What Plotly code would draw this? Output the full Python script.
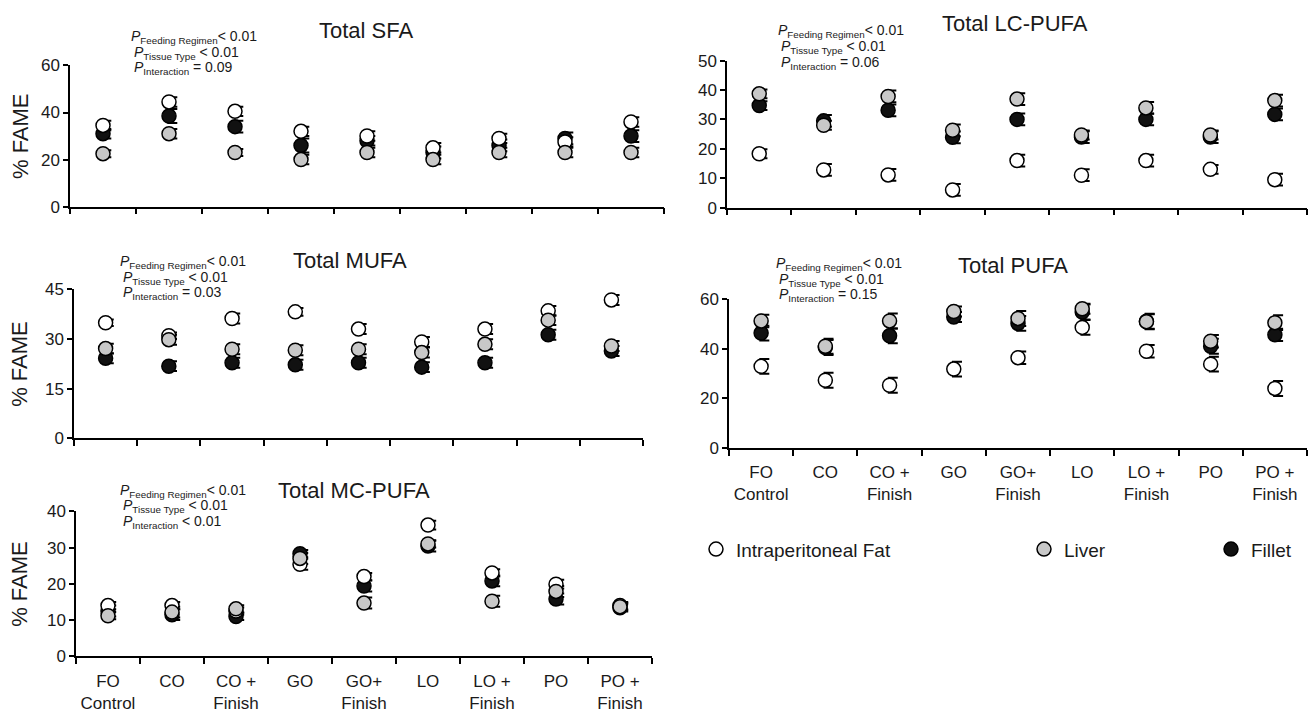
import plotly.graph_objects as go

W, H = 1309, 716
FONT = "Liberation Sans, Arial, sans-serif"

categories = ["FO<br>Control", "CO", "CO +<br>Finish", "GO", "GO+<br>Finish",
              "LO", "LO +<br>Finish", "PO", "PO +<br>Finish"]
series_names = ["Intraperitoneal Fat", "Liver", "Fillet"]

# ---- Total SFA ----
sfa_fat = [34.5, 44.5, 40.5, 32.0, 30.0, 25.0, 29.0, 27.5, 36.0]
sfa_liver = [22.5, 31.0, 23.0, 20.0, 23.0, 20.0, 23.0, 23.0, 23.0]
sfa_fillet = [31.0, 38.5, 34.0, 26.0, 28.0, 23.0, 26.0, 29.0, 30.0]
sfa_fat_err = [2.0, 2.0, 2.0, 2.0, 2.0, 2.0, 2.0, 2.0, 2.0]
sfa_liver_err = [1.5, 2.0, 1.5, 2.0, 2.0, 2.0, 2.0, 2.0, 2.0]
sfa_fillet_err = [2.0, 3.0, 2.5, 3.0, 2.0, 2.5, 2.5, 2.5, 2.5]

# ---- Total LC-PUFA ----
lc_fat = [18.3, 12.8, 11.1, 6.0, 16.0, 11.0, 16.0, 13.0, 9.5]
lc_liver = [38.7, 28.0, 37.8, 26.3, 36.9, 24.7, 33.9, 24.7, 36.4]
lc_fillet = [34.7, 29.5, 33.1, 23.9, 30.0, 24.0, 30.0, 24.0, 31.7]
lc_fat_err = [1.5, 2.0, 2.0, 2.0, 2.0, 2.0, 2.0, 1.5, 2.0]
lc_liver_err = [1.5, 1.5, 2.0, 2.0, 2.0, 1.5, 2.0, 1.5, 2.0]
lc_fillet_err = [1.5, 2.0, 2.0, 2.0, 2.0, 2.0, 2.0, 2.0, 2.0]

# ---- Total MUFA ----
mufa_fat = [34.9, 31.0, 36.2, 38.2, 33.0, 29.1, 33.0, 38.5, 41.8]
mufa_liver = [27.1, 29.8, 26.9, 26.6, 26.9, 25.9, 28.4, 35.7, 27.9]
mufa_fillet = [24.2, 21.8, 22.8, 22.2, 22.8, 21.5, 22.8, 31.3, 26.4]
mufa_fat_err = [1.0, 1.0, 1.5, 1.2, 1.5, 1.5, 1.5, 1.5, 1.5]
mufa_liver_err = [1.5, 1.5, 1.5, 1.5, 1.5, 1.5, 1.5, 1.5, 1.5]
mufa_fillet_err = [1.5, 1.5, 1.5, 1.5, 1.5, 1.5, 1.5, 1.5, 1.5]

# ---- Total PUFA ----
pufa_fat = [32.9, 27.3, 25.3, 31.8, 36.4, 48.6, 39.0, 33.8, 24.0]
pufa_liver = [51.2, 41.0, 51.2, 55.0, 52.2, 56.1, 50.9, 43.0, 50.5]
pufa_fillet = [46.3, 40.5, 45.2, 52.8, 50.2, 54.8, 51.1, 41.0, 45.6]
pufa_fat_err = [3.0, 3.0, 3.0, 3.0, 2.5, 3.0, 2.5, 3.0, 3.0]
pufa_liver_err = [2.5, 3.0, 3.0, 2.0, 3.0, 2.0, 3.0, 2.5, 3.0]
pufa_fillet_err = [3.0, 3.0, 3.0, 2.0, 3.0, 3.0, 3.0, 3.0, 2.5]

# ---- Total MC-PUFA ----
mc_fat = [14.0, 14.0, 12.5, 25.4, 22.0, 36.2, 23.0, 19.9, 14.0]
mc_liver = [11.2, 12.2, 13.1, 27.0, 14.7, 31.0, 15.2, 17.9, 13.7]
mc_fillet = [12.5, 11.5, 11.0, 28.3, 19.4, 30.4, 20.8, 15.8, 13.4]
mc_fat_err = [1.0, 1.0, 1.0, 1.5, 1.0, 1.2, 1.0, 1.2, 1.0]
mc_liver_err = [1.0, 1.5, 1.0, 1.5, 1.5, 1.0, 1.5, 1.5, 1.0]
mc_fillet_err = [1.5, 1.5, 1.0, 1.0, 1.5, 1.5, 1.5, 1.5, 1.0]

panel_titles = ["Total SFA", "Total LC-PUFA", "Total MUFA", "Total PUFA", "Total MC-PUFA"]
p_interaction = ["= 0.09", "= 0.06", "= 0.03", "= 0.15", "&lt; 0.01"]
y_max = [60, 50, 45, 60, 40]
y_dtick = [20, 10, 15, 20, 10]

panels = [
    (sfa_fat, sfa_liver, sfa_fillet, sfa_fat_err, sfa_liver_err, sfa_fillet_err),
    (lc_fat, lc_liver, lc_fillet, lc_fat_err, lc_liver_err, lc_fillet_err),
    (mufa_fat, mufa_liver, mufa_fillet, mufa_fat_err, mufa_liver_err, mufa_fillet_err),
    (pufa_fat, pufa_liver, pufa_fillet, pufa_fat_err, pufa_liver_err, pufa_fillet_err),
    (mc_fat, mc_liver, mc_fillet, mc_fat_err, mc_liver_err, mc_fillet_err),
]

# pixel layout of each plot area: (left, right, y of zero, y of max)
px_boxes = [
    (70, 664, 203, 58),
    (727, 1307, 204, 53),
    (74, 643, 441, 288),
    (729, 1307, 451, 298),
    (76, 652, 665, 516),
]
show_xlabels = [False, False, False, True, True]
show_ytitle = [True, False, True, False, True]
title_pos = [(366, 22), (1015, 15), (350, 258), (1013, 263), (354, 495)]
p_pos = [(129, 29), (776, 23), (118, 260), (774, 262), (118, 495)]

fills = {"Intraperitoneal Fat": "white", "Liver": "#c8c8c8", "Fillet": "#111111"}
legend_ids = {"Intraperitoneal Fat": "legend", "Liver": "legend2", "Fillet": "legend3"}

fig = go.Figure()
xs = list(range(len(categories)))
ERR_OFF = 0.05

for i, pdata in enumerate(panels):
    ax = "" if i == 0 else str(i + 1)
    vals = dict(zip(series_names, pdata[:3]))
    errs = dict(zip(series_names, pdata[3:]))
    # error bars first (slightly offset to the right as in the original)
    for name in series_names:
        fig.add_trace(go.Scatter(
            x=[x + ERR_OFF for x in xs], y=vals[name], mode="markers",
            marker=dict(size=2, color="rgba(0,0,0,0)"),
            error_y=dict(type="data", array=errs[name], color="black",
                         thickness=2, width=5),
            xaxis="x" + ax, yaxis="y" + ax, showlegend=False, hoverinfo="skip"))
    for name in ["Fillet", "Intraperitoneal Fat", "Liver"]:
        fig.add_trace(go.Scatter(
            x=xs, y=vals[name], mode="markers", name=name,
            marker=dict(symbol="circle", size=14, color=fills[name],
                        line=dict(color="black", width=1.5)),
            xaxis="x" + ax, yaxis="y" + ax,
            showlegend=(i == 0), legend=legend_ids[name]))

layout = dict(
    width=W, height=H, margin=dict(l=0, r=0, t=0, b=0),
    paper_bgcolor="white", plot_bgcolor="white",
    font=dict(family=FONT, color="#1a1a1a", size=17),
    annotations=[],
)

for i in range(5):
    ax = "" if i == 0 else str(i + 1)
    l, r, y0, ytop = px_boxes[i]
    layout["xaxis" + ax] = dict(
        domain=[l / W, r / W], range=[-0.5, len(categories) - 0.5],
        anchor="y" + ax, showline=True, linecolor="black", linewidth=1.5,
        showgrid=False, zeroline=False,
        tickmode="array", tickvals=xs, ticktext=categories,
        ticks="", showticklabels=show_xlabels[i], ticklabelstandoff=8,
        tickfont=dict(size=17),
        minor=dict(tick0=-0.5, dtick=1, ticks="outside", ticklen=6,
                   tickwidth=1.5, tickcolor="black", showgrid=False),
    )
    layout["yaxis" + ax] = dict(
        domain=[(H - y0) / H, (H - ytop) / H], range=[0, y_max[i]],
        anchor="x" + ax, showline=True, linecolor="black", linewidth=1.5,
        showgrid=False, zeroline=False, dtick=y_dtick[i], tick0=0,
        ticks="outside", ticklen=5, tickwidth=1.5, tickcolor="black",
        tickfont=dict(size=17),
    )
    tx, ty = title_pos[i]
    layout["annotations"].append(dict(
        text=panel_titles[i], x=tx / W, y=(H - ty) / H, xref="paper", yref="paper",
        xanchor="center", yanchor="middle", showarrow=False,
        font=dict(size=22, family=FONT, color="#1a1a1a")))
    px, py = p_pos[i]
    lines = [
        "<i>P</i><sub>Feeding Regimen</sub>&lt; 0.01",
        "<i>P</i><sub>Tissue Type</sub> &lt; 0.01",
        "<i>P</i><sub>Interaction</sub> " + p_interaction[i],
    ]
    for k, t in enumerate(lines):
        layout["annotations"].append(dict(
            text=t, x=(px + (0 if k == 0 else 3)) / W, y=(H - (py + 16 * k)) / H,
            xref="paper", yref="paper", xanchor="left", yanchor="middle",
            showarrow=False, font=dict(size=14, family=FONT, color="#1a1a1a")))
    if show_ytitle[i]:
        layout["annotations"].append(dict(
            text="% FAME", x=20 / W, y=(H - (y0 + ytop) / 2) / H,
            xref="paper", yref="paper", xanchor="center", yanchor="middle",
            textangle=-90, showarrow=False,
            font=dict(size=22, family=FONT, color="#1a1a1a")))

legend_x = {"legend": 718, "legend2": 1046, "legend3": 1233}
for lid, lx in legend_x.items():
    layout[lid] = dict(
        x=(lx - 22) / W, y=(H - 555) / H, xref="paper", yref="paper",
        xanchor="left", yanchor="middle", bgcolor="rgba(0,0,0,0)",
        font=dict(size=19, family=FONT, color="#1a1a1a"))

fig.update_layout(**layout)
fig.write_html("out.html", config={"displayModeBar": False},
               post_script="document.body.style.margin='0px';")
